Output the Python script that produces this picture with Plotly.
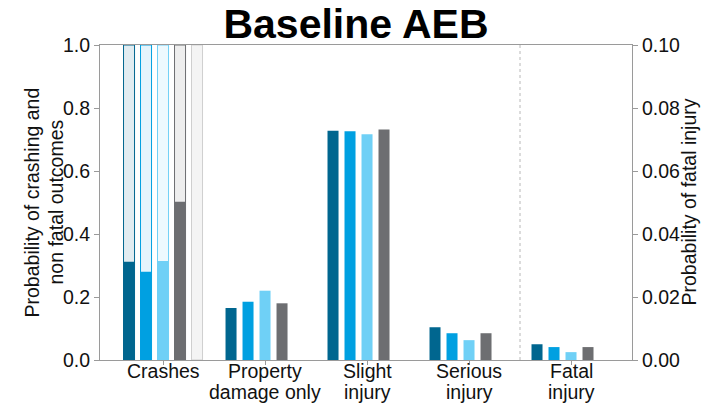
import plotly.graph_objects as go

# Outcome categories (x axis)
categories = ["Crashes", "Property damage only", "Slight injury", "Serious injury", "Fatal injury"]
category_lines = [["Crashes"], ["Property", "damage only"], ["Slight", "injury"],
                  ["Serious", "injury"], ["Fatal", "injury"]]

# Probabilities per series for the non-fatal categories (left axis)
series_a = [0.312, 0.165, 0.728, 0.104]
series_b = [0.280, 0.185, 0.726, 0.085]
series_c = [0.314, 0.220, 0.717, 0.063]
series_d = [0.502, 0.180, 0.732, 0.085]
series_e = [0.0, None, None, None]

# Fatal injury probabilities (right axis)
fatal_a = 0.0050
fatal_b = 0.0041
fatal_c = 0.0025
fatal_d = 0.0041

crash_ceiling = 1.0

left_ticks = [0.0, 0.2, 0.4, 0.6, 0.8, 1.0]
right_ticks = [0.0, 0.02, 0.04, 0.06, 0.08, 0.10]

left_title = ["Probability of crashing and", "non fatal outcomes"]
right_title = "Probability of fatal injury"

colors = ["#00668f", "#00a0e1", "#6fd0f6", "#6d6e71", "#cfcfcf"]
tints = ["#e1ecf1", "#e4f4fc", "#edf9fe", "#eeeeee", "#f4f4f4"]

series = [series_a, series_b, series_c, series_d, series_e]
fatal = [fatal_a, fatal_b, fatal_c, fatal_d, None]

slot = 1 / 6
width = 0.108

fig = go.Figure()

for i, vals in enumerate(series):
    off = (i - 2) * slot - width / 2
    # full-height crash background
    fig.add_trace(go.Bar(
        x=[categories[0]], y=[crash_ceiling], width=width, offset=off,
        marker=dict(color=tints[i], line=dict(color=colors[i], width=1)),
        showlegend=False, hoverinfo="skip", yaxis="y"))
    xs = [c for c, v in zip(categories[:4], vals) if v is not None]
    ys = [v for v in vals if v is not None]
    fig.add_trace(go.Bar(
        x=xs, y=ys, width=width, offset=off,
        marker=dict(color=colors[i], line=dict(width=0)),
        showlegend=False, yaxis="y"))
    if fatal[i] is not None:
        fig.add_trace(go.Bar(
            x=[categories[4]], y=[fatal[i]], width=width, offset=off,
            marker=dict(color=colors[i], line=dict(width=0)),
            showlegend=False, yaxis="y2"))

fig.add_shape(type="line", xref="x", yref="paper", x0=3.5, x1=3.5, y0=0, y1=1,
              line=dict(color="#b8b8b8", width=1, dash="dot"))

font_family = "Liberation Sans, Arial, sans-serif"
fs = 19.5
text_color = "#111111"

# category labels, one annotation per text line
line_shift = [-11, -32]
for cat, lines in zip(categories, category_lines):
    for k, txt in enumerate(lines):
        fig.add_annotation(x=cat, xref="x", y=0, yref="paper", text=txt, showarrow=False,
                           xanchor="center", yanchor="middle", yshift=line_shift[k],
                           font=dict(size=fs, color=text_color, family=font_family))

# axis titles
for k, txt in enumerate(left_title):
    fig.add_annotation(x=0, xref="paper", y=0.5, yref="paper", text=txt, showarrow=False,
                       textangle=-90, xanchor="center", yanchor="middle",
                       xshift=[-69, -45][k],
                       font=dict(size=fs, color=text_color, family=font_family))
fig.add_annotation(x=1, xref="paper", y=0.5, yref="paper", text=right_title, showarrow=False,
                   textangle=-90, xanchor="center", yanchor="middle", xshift=56,
                   font=dict(size=fs, color=text_color, family=font_family))

fig.update_layout(
    width=712, height=411,
    margin=dict(l=100, r=80, t=45, b=51),
    paper_bgcolor="white", plot_bgcolor="white",
    barmode="overlay",
    font=dict(family=font_family, size=fs, color=text_color),
    title=dict(text="<b>Baseline AEB</b>", x=0.5, xanchor="center", y=0.943, yanchor="middle",
               font=dict(size=41, color="#000000", family=font_family)),
    xaxis=dict(type="category", categoryorder="array", categoryarray=categories,
               range=[-0.618, 4.598], showline=True, linecolor="#9a9a9a", linewidth=1,
               ticks="outside", ticklen=4, tickcolor="#9a9a9a", mirror=True,
               showticklabels=False, showgrid=False, automargin=False),
    yaxis=dict(range=[0, 1.0], tickvals=left_ticks, tickformat=".1f",
               showline=True, linecolor="#9a9a9a", linewidth=1,
               ticks="outside", ticklen=5, tickcolor="#9a9a9a", showgrid=False, zeroline=False,
               tickfont=dict(size=fs), automargin=False),
    yaxis2=dict(range=[0, 0.10], tickvals=right_ticks, tickformat=".2f", overlaying="y", side="right",
                showline=True, linecolor="#9a9a9a", linewidth=1,
                ticks="outside", ticklen=5, tickcolor="#9a9a9a", showgrid=False, zeroline=False,
                tickfont=dict(size=fs), automargin=False),
)

fig.write_html("out.html")
